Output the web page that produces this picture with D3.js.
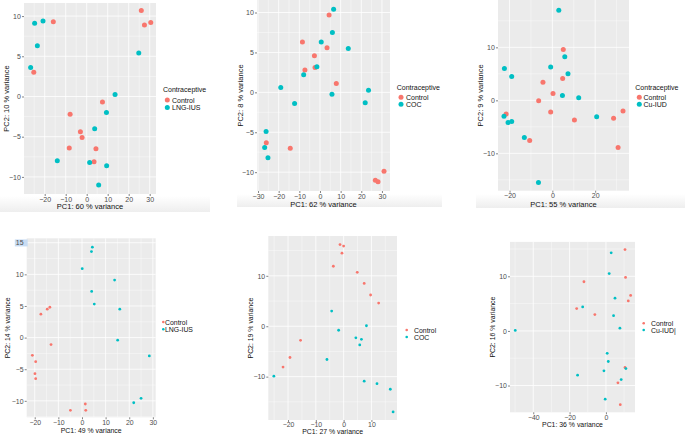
<!DOCTYPE html>
<html><head><meta charset="utf-8">
<script src="https://cdn.jsdelivr.net/npm/d3@7"></script>
<style>body{margin:0;background:#fff}svg{display:block}text{font-family:"Liberation Sans",Arial,sans-serif}</style>
</head><body>
<svg id="c" width="685" height="435"></svg>
<script>
// ---------- data ----------
const groupControl = "Control";
const legendTitle = "Contraceptive";
// Panel 1 (LNG-IUS, top-left)
const p1Control = [[-15.9,9.3],[26.0,10.7],[27.5,8.9],[30.5,9.2],[-25.2,3.0],[7.5,-0.7],[-7.9,-2.2],[-3.0,-4.4],[-2.2,-5.1],[-8.3,-6.4],[4.4,-6.5],[3.5,-8.1]];
const p1Treat = [[-24.8,9.1],[-20.8,9.4],[-23.5,6.3],[-26.7,3.6],[13.5,0.25],[9.4,-2.0],[3.8,-4.0],[-14.0,-8.0],[1.4,-8.2],[9.5,-8.6],[5.7,-11.0],[24.8,5.4]];
const p1XTicks = [-20,-10,0,10,20,30], p1YTicks = [-10,-5,0,5,10];
// Panel 2 (COC, top-middle)
const p2Control = [[4.4,9.7],[-8.5,6.3],[-2.7,4.6],[3.4,5.6],[-7.3,2.8],[-2.4,3.1],[7.9,1.1],[-26.0,-6.3],[-14.4,-7.0],[31.0,-9.9],[26.8,-11.0],[28.1,-11.2]];
const p2Treat = [[6.6,10.4],[6.0,7.5],[0.6,6.3],[13.7,5.5],[-1.5,3.2],[-7.9,2.2],[-19.0,0.6],[-12.3,-1.4],[5.8,-0.25],[23.5,0.25],[21.9,-1.3],[-26.1,-4.9],[-26.8,-6.9],[-25.2,-8.2]];
const p2XTicks = [-30,-20,-10,0,10,20,30], p2YTicks = [-10,-5,0,5,10];
// Panel 3 (Cu-IUD, top-right)
const p3Control = [[5.1,9.6],[-4.4,3.4],[4.8,4.1],[0.3,1.3],[-6.4,-0.1],[-0.8,-2.2],[-21.6,-2.6],[10.3,-3.7],[28.6,-3.4],[33.0,-2.0],[-10.6,-7.6],[30.7,-8.9]];
const p3Treat = [[3.0,17.0],[5.8,8.2],[-0.8,6.3],[-22.4,6.0],[-19.0,4.5],[7.3,5.0],[4.7,0.9],[12.3,0.5],[-22.6,-3.0],[-20.7,-4.2],[-19.0,-4.0],[-13.1,-7.0],[20.7,-3.1],[-6.5,-15.5]];
const p3XTicks = [-20,0,20], p3YTicks = [-10,0,10];
// Panel 4 (LNG-IUS, bottom-left)
const p4Control = [[-13.6,4.8],[-14.7,4.5],[-17.4,3.7],[-13.1,-1.1],[-21.0,-2.8],[-19.6,-3.8],[-19.9,-5.7],[-19.6,-6.5],[1.4,-10.5],[-4.9,-11.5],[1.6,-11.5]];
const p4Treat = [[4.4,14.3],[4.0,13.6],[0.1,10.9],[13.8,9.1],[4.1,7.3],[5.2,5.3],[16.0,4.5],[15.1,-0.4],[28.5,-2.9],[25.0,-9.6],[21.9,-10.3]];
const p4XTicks = [-20,-10,0,10,20,30], p4YTicks = [-10,-5,0,5,10,15];
// Panel 5 (COC, bottom-middle)
const p5Control = [[-1.3,16.2],[0.0,15.9],[-0.6,14.5],[-3.7,11.9],[4.9,10.7],[7.4,8.5],[9.7,6.2],[12.6,4.6],[-15.5,-2.8],[-19.3,-6.2],[-21.8,-8.1]];
const p5Treat = [[-4.3,3.0],[8.2,0.1],[-1.8,-0.8],[4.4,-2.3],[6.4,-2.6],[5.8,-3.7],[-6.0,-6.6],[-25.1,-9.9],[7.4,-10.9],[12.0,-11.4],[16.8,-12.5],[17.8,-17.0]];
const p5XTicks = [-20,-10,0,10], p5YTicks = [-10,0,10];
// Panel 6 (Cu-IUD, bottom-right)
const p6Control = [[10.5,14.9],[10.8,9.8],[-12.1,9.0],[13.6,6.5],[12.3,5.5],[-16.1,4.1],[-6.1,3.0],[10.5,-6.7],[6.6,-9.5],[7.9,-13.5]];
const p6Treat = [[2.9,14.3],[1.8,10.5],[5.0,6.0],[-12.8,4.4],[4.2,2.8],[7.7,0.5],[-49.9,0.1],[0.7,-4.1],[1.3,-5.6],[-1.1,-7.3],[8.4,-8.9],[-15.6,-8.1],[-0.4,-12.5],[11.0,-6.9]];
const p6XTicks = [-40,-20,0], p6YTicks = [-10,0,10];

const C_RED = "#F8766D", C_TEAL = "#00BFC4";
const svg = d3.select("#c");

// background light strips under top x-axis titles (screenshot artefact)
const defs = svg.append("defs");
const gr = defs.append("linearGradient").attr("id","strip").attr("x1",0).attr("y1",0).attr("x2",0).attr("y2",1);
gr.append("stop").attr("offset","0").attr("stop-color","#ffffff");
gr.append("stop").attr("offset","1").attr("stop-color","#eeeeee");
[[0,210,196,212],[237,442,194,207],[476,685,194,208]].forEach(s=>{
  svg.append("rect").attr("x",s[0]).attr("y",s[2]).attr("width",s[1]-s[0]).attr("height",s[3]-s[2]).attr("fill","url(#strip)");
});

function minors(ticks, dom){
  const step = ticks[1]-ticks[0];
  const out=[];
  for(let v=ticks[0]-step; v<=ticks[ticks.length-1]+step; v+=step){
    const m=v+step/2;
    if(m>=Math.min(...dom) && m<=Math.max(...dom) && !ticks.includes(m)) out.push(m);
  }
  return out;
}

function panel(cfg){
  const g = svg.append("g");
  const x = d3.scaleLinear().domain(cfg.xDomain).range([cfg.left, cfg.right]);
  const y = d3.scaleLinear().domain(cfg.yDomain).range([cfg.bottom, cfg.top]);
  g.append("rect").attr("x",cfg.left).attr("y",cfg.top).attr("width",cfg.right-cfg.left).attr("height",cfg.bottom-cfg.top).attr("fill","#EBEBEB");
  const xm = minors(cfg.xTicks, cfg.xDomain), ym = minors(cfg.yTicks, cfg.yDomain);
  g.selectAll(null).data(xm).join("line").attr("x1",d=>x(d)).attr("x2",d=>x(d)).attr("y1",cfg.top).attr("y2",cfg.bottom).attr("stroke","#fff").attr("stroke-width",0.4);
  g.selectAll(null).data(ym).join("line").attr("y1",d=>y(d)).attr("y2",d=>y(d)).attr("x1",cfg.left).attr("x2",cfg.right).attr("stroke","#fff").attr("stroke-width",0.4);
  g.selectAll(null).data(cfg.xTicks).join("line").attr("x1",d=>x(d)).attr("x2",d=>x(d)).attr("y1",cfg.top).attr("y2",cfg.bottom).attr("stroke","#fff").attr("stroke-width",0.8);
  g.selectAll(null).data(cfg.yTicks).join("line").attr("y1",d=>y(d)).attr("y2",d=>y(d)).attr("x1",cfg.left).attr("x2",cfg.right).attr("stroke","#fff").attr("stroke-width",0.8);
  // points
  const pts = cfg.control.map(p=>({p,c:C_RED})).concat(cfg.treat.map(p=>({p,c:C_TEAL})));
  g.selectAll(null).data(pts).join("circle").attr("cx",d=>x(d.p[0])).attr("cy",d=>y(d.p[1])).attr("r",cfg.r).attr("fill",d=>d.c);
  // axes
  const fmt = d3.format("");
  const ax = d3.axisBottom(x).tickValues(cfg.xTicks).tickSize(2).tickPadding(0.6).tickFormat(fmt);
  const ay = d3.axisLeft(y).tickValues(cfg.yTicks).tickSize(2).tickPadding(1.2).tickFormat(fmt);
  const gx = g.append("g").attr("transform",`translate(0,${cfg.bottom})`).call(ax);
  const gy = g.append("g").attr("transform",`translate(${cfg.left},0)`).call(ay);
  [gx,gy].forEach(a=>{
    a.select(".domain").remove();
    a.selectAll(".tick line").attr("stroke","#333").attr("stroke-width",0.6);
    a.selectAll(".tick text").attr("fill","#4D4D4D").style("font-size",cfg.tickFs+"px").style("font-family","Liberation Sans, Arial, sans-serif");
  });
  if(cfg.highlight15){
    const t = gy.selectAll(".tick").filter(d=>d===15);
    const bb = t.select("text").node().getBBox();
    t.insert("rect","text").attr("x",bb.x-1).attr("y",bb.y).attr("width",bb.width+5).attr("height",bb.height).attr("fill","#C8DCF3");
  }
  // titles
  g.append("text").attr("x",(cfg.left+cfg.right)/2).attr("y",cfg.xTitleY).attr("text-anchor","middle").attr("fill","#111").style("font-size",cfg.titleFs+"px").text(cfg.xTitle);
  g.append("text").attr("transform",`translate(${cfg.yTitleX},${(cfg.top+cfg.bottom)/2}) rotate(-90)`).attr("text-anchor","middle").attr("dominant-baseline","central").attr("fill","#111").style("font-size",cfg.titleFs+"px").text(cfg.yTitle);
  // legend
  const L = cfg.legend;
  if(L.title) g.append("text").attr("x",L.x).attr("y",L.y).attr("fill","#111").style("font-size",L.fs+"px").text(legendTitle);
  [[groupControl,C_RED],[cfg.treatName,C_TEAL]].forEach((e,i)=>{
    const yy = L.y0 + i*L.dy;
    g.append("circle").attr("cx",L.dotX).attr("cy",yy).attr("r",L.r).attr("fill",e[1]);
    g.append("text").attr("x",L.textX).attr("y",yy).attr("dominant-baseline","central").attr("fill","#111").style("font-size",L.fs+"px").text(e[0]);
  });
}

panel({left:24,right:156,top:3,bottom:194,xDomain:[-29.86,33.0],yDomain:[-12.125,11.625],
  xTicks:p1XTicks,yTicks:p1YTicks,control:p1Control,treat:p1Treat,treatName:"LNG-IUS",r:2.5,
  tickFs:7,titleFs:7.5,xTitle:"PC1: 60 % variance",yTitle:"PC2: 10 % variance",xTitleY:208.5,yTitleX:6,
  legend:{title:true,x:163,y:92,y0:100,dy:7.5,dotX:167.3,textX:172,r:2.5,fs:7}});
panel({left:257,right:390,top:0,bottom:191,xDomain:[-30.5,33.9],yDomain:[-12.36,11.57],
  xTicks:p2XTicks,yTicks:p2YTicks,control:p2Control,treat:p2Treat,treatName:"COC",r:2.5,
  tickFs:7,titleFs:7.5,xTitle:"PC1: 62 % variance",yTitle:"PC2: 8 % variance",xTitleY:206.5,yTitleX:240.5,
  legend:{title:true,x:396.7,y:90.3,y0:97.3,dy:7,dotX:401,textX:406,r:2.5,fs:7}});
panel({left:498,right:629,top:0,bottom:190.7,xDomain:[-25.4,35.8],yDomain:[-17.05,18.93],
  xTicks:p3XTicks,yTicks:p3YTicks,control:p3Control,treat:p3Treat,treatName:"Cu-IUD",r:2.5,
  tickFs:7,titleFs:7.5,xTitle:"PC1: 55 % variance",yTitle:"PC2: 9 % variance",xTitleY:206.5,yTitleX:480,
  legend:{title:true,x:635.3,y:90.3,y0:97.3,dy:7,dotX:639.3,textX:643.5,r:2.5,fs:7}});
panel({left:26.7,right:155.7,top:238.3,bottom:417.3,xDomain:[-23.4,31.2],yDomain:[-12.6,15.7],
  xTicks:p4XTicks,yTicks:p4YTicks,control:p4Control,treat:p4Treat,treatName:"LNG-IUS",r:1.4,highlight15:true,
  tickFs:6.9,titleFs:6.9,xTitle:"PC1: 49 % variance",yTitle:"PC2: 14 % variance",xTitleY:432.5,yTitleX:7.3,
  legend:{title:false,y0:322,dy:7.3,dotX:163.3,textX:165,r:1.3,fs:6.9}});
panel({left:268.3,right:397,top:236,bottom:420,xDomain:[-27.1,19.2],yDomain:[-18.6,17.9],
  xTicks:p5XTicks,yTicks:p5YTicks,control:p5Control,treat:p5Treat,treatName:"COC",r:1.4,
  tickFs:6.9,titleFs:6.9,xTitle:"PC1: 27 % variance",yTitle:"PC2: 19 % variance",xTitleY:434,yTitleX:250,
  legend:{title:false,y0:330,dy:7,dotX:406.7,textX:414,r:1.3,fs:6.9}});
panel({left:510,right:635,top:241.9,bottom:412.3,xDomain:[-52.8,16.0],yDomain:[-14.9,16.3],
  xTicks:p6XTicks,yTicks:p6YTicks,control:p6Control,treat:p6Treat,treatName:"Cu-IUD|",r:1.4,
  tickFs:6.9,titleFs:6.9,xTitle:"PC1: 36 % variance",yTitle:"PC2: 16 % variance",xTitleY:427,yTitleX:492.7,
  legend:{title:false,y0:323.3,dy:6.7,dotX:643.7,textX:651,r:1.3,fs:6.9}});
</script>
</body></html>
